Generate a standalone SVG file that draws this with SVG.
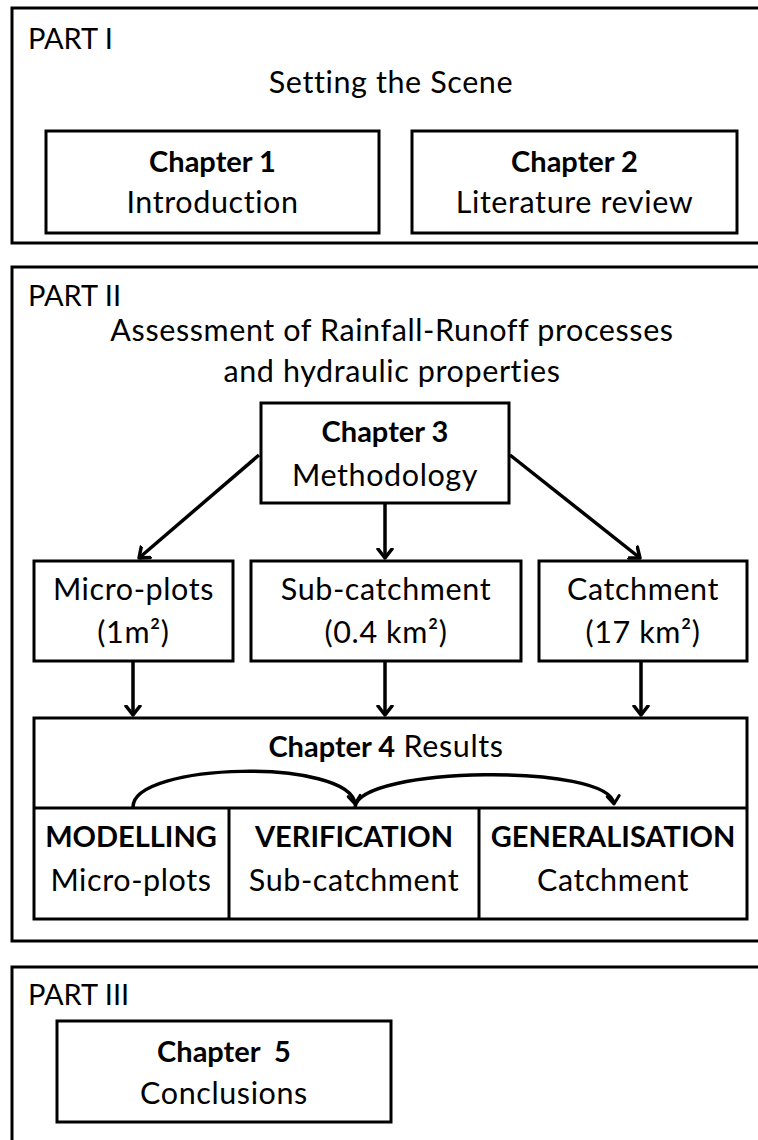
<svg xmlns="http://www.w3.org/2000/svg" width="758" height="1140" viewBox="0 0 758 1140">
<style>
.part{fill:none;stroke:#000;stroke-width:3}
.box{fill:#fff;stroke:#000;stroke-width:3}
text{font-family:Lato,"Open Sans",sans-serif;font-size:30.5px;letter-spacing:0.6px;fill:#000}
.c{text-anchor:middle}
.b{font-weight:bold;font-size:29px;letter-spacing:0}
.p{font-size:29px;letter-spacing:0}
.con{fill:none;stroke:#000;stroke-width:3.5}
</style>
<defs>
<marker id="ah" markerWidth="20" markerHeight="20" viewBox="-10 -10 20 20" refX="0" refY="0" orient="auto" markerUnits="userSpaceOnUse">
<polyline points="-9,-7 0,0 -9,7" fill="none" stroke="#000" stroke-width="3.5" stroke-linecap="round" stroke-linejoin="round"/>
</marker>
<marker id="ah2" markerWidth="20" markerHeight="20" viewBox="-10 -10 20 20" refX="0" refY="0" orient="auto" markerUnits="userSpaceOnUse">
<polyline points="-8,-6 0,0 -8,6" fill="none" stroke="#000" stroke-width="3" stroke-linecap="round" stroke-linejoin="round"/>
</marker>
</defs>
<rect width="758" height="1140" fill="#fff"/>

<g id="part1">
<rect class="part" x="12" y="8" width="760" height="235"/>
<text class="p" x="28" y="49">PART I</text>
<text class="c" x="391" y="93">Setting the Scene</text>
</g>
<g id="chapter1">
<rect class="box" x="46" y="131" width="333" height="102"/>
<text class="c b" x="212.5" y="172">Chapter 1</text>
<text class="c" x="212.5" y="213">Introduction</text>
</g>
<g id="chapter2">
<rect class="box" x="412" y="131" width="325" height="102"/>
<text class="c b" x="574.5" y="172">Chapter 2</text>
<text class="c" x="574.5" y="213">Literature review</text>
</g>

<g id="part2">
<rect class="part" x="12" y="267" width="760" height="674"/>
<text class="p" x="28" y="306">PART II</text>
<text class="c" x="392" y="341">Assessment of Rainfall-Runoff processes</text>
<text class="c" x="392" y="382">and hydraulic properties</text>
</g>
<g id="chapter3">
<rect class="box" x="261" y="403" width="248" height="100"/>
<text class="c b" x="385" y="442">Chapter 3</text>
<text class="c" x="385" y="486">Methodology</text>
</g>
<g id="microplots">
<rect class="box" x="34" y="561" width="199" height="100"/>
<text class="c" x="133.5" y="600">Micro-plots</text>
<text class="c" x="133.5" y="643">(1m²)</text>
</g>
<g id="subcatchment">
<rect class="box" x="251" y="561" width="270" height="100"/>
<text class="c" x="386" y="600">Sub-catchment</text>
<text class="c" x="386" y="643">(0.4 km²)</text>
</g>
<g id="catchment">
<rect class="box" x="539" y="561" width="208" height="100"/>
<text class="c" x="643" y="600">Catchment</text>
<text class="c" x="643" y="643">(17 km²)</text>
</g>
<g id="chapter4">
<rect class="box" x="34" y="718" width="713" height="201"/>
<text class="c" x="386" y="757"><tspan class="b">Chapter 4</tspan> Results</text>
<line x1="34" y1="808" x2="747" y2="808" stroke="#000" stroke-width="3"/>
<line x1="229" y1="808" x2="229" y2="919" stroke="#000" stroke-width="3"/>
<line x1="479" y1="808" x2="479" y2="919" stroke="#000" stroke-width="3"/>
<text class="c b" x="131" y="847">MODELLING</text>
<text class="c" x="131" y="891">Micro-plots</text>
<text class="c b" x="354" y="847">VERIFICATION</text>
<text class="c" x="354" y="891">Sub-catchment</text>
<text class="c b" x="613" y="847">GENERALISATION</text>
<text class="c" x="613" y="891">Catchment</text>
</g>

<g id="part3">
<rect class="part" x="12" y="967" width="760" height="190"/>
<text class="p" x="28" y="1005">PART III</text>
</g>
<g id="chapter5">
<rect class="box" x="57" y="1021" width="334" height="101"/>
<text class="c b" x="224" y="1062" style="white-space:pre">Chapter  5</text>
<text class="c" x="224" y="1104">Conclusions</text>
</g>

<g id="connectors">
<line class="con" x1="259" y1="455" x2="139" y2="558" marker-end="url(#ah)"/>
<line class="con" x1="385" y1="503" x2="385" y2="558" marker-end="url(#ah)"/>
<line class="con" x1="510" y1="455" x2="640" y2="558" marker-end="url(#ah)"/>
<line class="con" x1="133" y1="661" x2="133" y2="715" marker-end="url(#ah)"/>
<line class="con" x1="385" y1="661" x2="385" y2="715" marker-end="url(#ah)"/>
<line class="con" x1="641" y1="661" x2="641" y2="715" marker-end="url(#ah)"/>
<path class="con" d="M133,807 C133,762 350,758 355,804" marker-end="url(#ah2)"/>
<path class="con" d="M355,807 C360,766 610,763 614,804" marker-end="url(#ah2)"/>
</g>
</svg>
